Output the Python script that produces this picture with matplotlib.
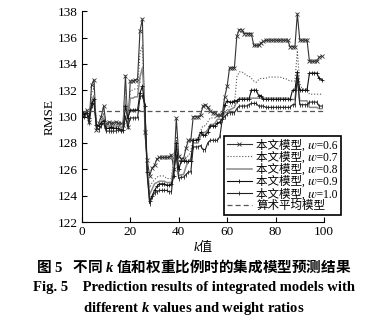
import numpy as np
import matplotlib
matplotlib.use("Agg")
import matplotlib.pyplot as plt

plt.rcParams['font.family'] = ['Liberation Serif', 'Noto Sans CJK SC', 'STIXGeneral', 'DejaVu Serif']
# custom math fonts: sf carries the Chinese glyphs, it/bfit the italic latin letters
plt.rcParams['mathtext.fontset'] = 'custom'
plt.rcParams['mathtext.rm'] = 'Liberation Serif'
plt.rcParams['mathtext.it'] = 'Liberation Serif:italic'
plt.rcParams['mathtext.bfit'] = 'Liberation Serif:italic:bold'
plt.rcParams['mathtext.sf'] = 'Noto Sans CJK SC'
plt.rcParams['mathtext.bf'] = 'Noto Sans CJK SC:bold'

# k values 0..99
k = np.arange(100)

w06 = [130.3, 130.1, 130.5, 129.6, 132.4, 132.8, 129.0, 129.5, 130.0, 130.8, 129.4,
       129.6, 129.5, 129.5, 129.6, 129.5, 129.5, 129.4,
       133.1, 129.2,
       132.7, 132.7, 132.8, 132.8,
       136.5, 137.4, 128.8, 126.7, 125.5, 126.1, 126.3,
       126.8, 126.9, 126.9, 126.9, 126.9, 126.9, 127.1,
       126.0, 129.9, 127.0, 126.8, 126.8, 127.6, 128.2, 128.2, 130.0, 130.0, 130.0, 130.1,
       130.8, 130.9, 130.7, 130.4, 130.3, 130.3, 130.1, 130.1, 130.2, 131.5, 132.3, 133.7,
       133.7, 133.7, 136.1, 136.6, 136.6, 136.3, 136.3, 136.3, 136.3, 135.4, 135.4, 135.4,
       135.6, 135.7, 135.8,
       135.8, 135.8, 135.8, 135.8, 135.8, 135.8, 135.8, 135.8, 135.8,
       135.3, 135.3, 135.3, 137.8, 135.8, 135.8, 135.8, 135.8, 134.2, 134.2, 134.2, 134.2,
       134.5, 134.6]

w07 = [130.2, 130.2, 130.4, 129.7, 131.8, 132.2, 129.2, 129.5, 129.8, 130.3, 129.3,
       129.4, 129.4, 129.3, 129.4, 129.4, 129.3, 129.3,
       132.4, 129.5,
       132.0, 132.0, 132.1, 132.1,
       134.8, 135.4, 130.4, 126.2, 124.6, 125.0, 125.2,
       125.4, 125.5, 125.5, 125.5, 125.3, 125.3, 125.3,
       127.0, 128.5, 126.7, 126.6, 126.6, 127.0, 127.0, 127.4, 128.3, 128.3, 128.4, 128.9,
       129.3, 129.3, 129.6, 129.9, 129.9, 129.9, 130.0, 130.0, 130.1, 130.6, 130.4, 130.8,
       130.8, 130.8, 133.0, 133.4, 133.4, 133.3, 133.1, 133.1, 132.9, 132.7, 132.6, 132.8,
       132.9, 132.9, 132.9,
       133.0, 133.0, 133.0, 133.0, 133.0, 133.0, 132.9, 132.9, 132.8,
       132.7, 132.7, 132.7, 135.0, 132.5, 132.1, 132.1, 132.1, 131.7, 131.7, 131.7, 131.7,
       131.7, 131.7]

w08 = [130.3, 130.0, 130.4, 129.8, 131.2, 131.6, 129.3, 129.4, 129.6, 129.9, 129.2,
       129.3, 129.3, 129.2, 129.2, 129.3, 129.2, 129.2,
       131.5, 129.7,
       131.4, 131.4, 131.5, 131.5,
       133.0, 133.7, 130.6, 126.0, 124.1, 124.5, 124.9,
       125.0, 125.1, 125.1, 125.1, 125.0, 125.0, 125.0,
       126.5, 127.5, 125.5, 125.6, 125.6, 126.2, 126.6, 126.8, 128.0, 128.0, 128.0, 128.5,
       128.8, 128.8, 129.0, 129.4, 129.4, 129.5, 129.8, 129.8, 129.8, 130.3, 130.3, 130.5,
       130.6, 130.7, 131.2, 131.4, 131.4, 131.4, 131.4, 131.4, 131.4, 131.4, 131.4, 131.4,
       131.4, 131.4, 131.4,
       131.4, 131.4, 131.4, 131.4, 131.4, 131.4, 131.4, 131.4, 131.4,
       131.3, 131.3, 131.3, 133.0, 131.2, 131.2, 131.2, 131.2, 130.7, 130.7, 130.7, 130.7,
       130.6, 130.6]

w09 = [130.4, 130.2, 130.3, 129.9, 131.0, 131.3, 129.4, 129.3, 129.5, 129.7, 129.1,
       129.1, 129.2, 129.1, 129.1, 129.1, 129.0, 129.0,
       130.8, 129.9,
       130.5, 130.5, 130.5, 130.5,
       131.8, 132.3, 130.8, 125.8, 123.6, 124.0, 124.4,
       124.7, 124.9, 124.9, 124.9, 124.8, 124.8, 124.9,
       125.5, 128.0, 126.0, 126.6, 126.6, 126.6, 126.6, 126.6, 128.2, 128.2, 128.3, 128.8,
       128.6, 128.6, 128.8, 129.3, 129.3, 129.3, 129.5, 129.6, 129.8, 130.9, 131.2, 131.1,
       131.1, 131.2, 131.2, 131.3, 131.3, 131.3, 131.3, 131.3, 132.0, 132.0, 132.0, 131.6,
       131.6, 131.3, 131.3,
       131.3, 131.3, 131.3, 131.3, 131.3, 131.3, 131.3, 131.3, 131.3,
       131.3, 132.0, 132.0, 133.4, 132.0, 132.0, 132.0, 132.0, 133.3, 133.3, 133.3, 133.3,
       132.9, 132.8]

w10 = [130.1, 130.0, 130.3, 129.5, 130.8, 131.0, 129.2, 129.0, 129.3, 129.5, 128.9,
       128.9, 128.9, 128.9, 128.9, 129.0, 128.9, 128.9,
       130.0, 129.2,
       129.9, 129.9, 129.9, 129.9,
       131.5, 131.6, 130.9, 125.5, 123.4, 123.9, 124.2,
       124.3, 124.4, 124.4, 124.4, 124.4, 124.3, 124.3,
       126.0, 127.0, 125.3, 125.4, 125.4, 125.6, 125.8, 125.8, 127.7, 127.7, 127.7, 127.8,
       127.5, 127.5, 128.0, 128.2, 128.2, 128.2, 128.2, 128.5, 129.8, 130.0, 130.2, 130.3,
       130.3, 130.3, 130.6, 130.8, 130.8, 130.8, 130.8, 130.9, 131.0, 131.0, 131.0, 130.8,
       130.8, 130.8, 130.7,
       130.7, 130.7, 130.7, 130.7, 130.7, 130.7, 130.7, 130.7, 130.7,
       130.7, 130.9, 130.9, 133.0, 130.9, 130.9, 130.9, 130.9, 131.1, 131.1, 131.1, 131.1,
       130.8, 130.8]

mean_rmse = 130.45

# U+1D464 is the mathematical italic w
labels = ['本文模型, \U0001D464=0.6', '本文模型, \U0001D464=0.7', '本文模型, \U0001D464=0.8',
          '本文模型, \U0001D464=0.9', '本文模型, \U0001D464=1.0', '算术平均模型']

fig = plt.figure(figsize=(3.88, 3.28), dpi=100)
ax = fig.add_axes([0.211, 0.323, 0.624, 0.643])

ax.plot(k, w06, color='#333333', lw=0.8, marker='x', ms=2.5, mew=0.6, label=labels[0])
ax.plot(k, w07, color='#555555', lw=0.8, ls=':', label=labels[1])
ax.plot(k, w08, color='#8a8a8a', lw=1.1, label=labels[2])
ax.plot(k, w09, color='#111111', lw=0.8, marker='+', ms=2.5, mew=0.6, label=labels[3])
ax.plot(k, w10, color='#222222', lw=0.8, marker='|', ms=2.5, mew=0.6, label=labels[4])
ax.axhline(mean_rmse, color='#555555', lw=0.9, ls=(0, (4, 2.5)), label=labels[5])

ax.set_xlim(0, 100)
ax.set_ylim(122, 138)
ax.set_xticks(range(0, 101, 20))
ax.set_yticks(range(122, 139, 2))
ax.tick_params(direction='in', length=3.5, width=0.8, labelsize=9.5, pad=3)
for s in ['top', 'right']:
    ax.spines[s].set_visible(False)
for s in ['left', 'bottom']:
    ax.spines[s].set_linewidth(0.8)

ax.set_ylabel('RMSE', fontsize=9.5, labelpad=1.5)
ax.set_xlabel(r'$k$$\mathsf{值}$', fontsize=9.5, labelpad=-1)

leg = ax.legend(loc='upper left', bbox_to_anchor=(0.577, 0.585),
                bbox_transform=fig.transFigure, fontsize=8.3, frameon=True,
                fancybox=False, handlelength=2.2, handletextpad=0.35,
                labelspacing=0.0, borderpad=0.25, borderaxespad=0)
leg.get_frame().set_edgecolor('black')
leg.get_frame().set_linewidth(1.2)
leg.get_frame().set_alpha(1)

fig.text(0.5, 0.187,
         r'$\mathbf{图}$ 5   $\mathbf{不同}$ $\mathbfit{k}$ $\mathbf{值和权重比例时的集成模型预测结果}$',
         ha='center', va='center', fontsize=10.5, fontweight='bold')
fig.text(0.5, 0.122, 'Fig. 5    Prediction results of integrated models with',
         ha='center', va='center', fontsize=10.5, fontweight='bold')
fig.text(0.5, 0.06, r'different $\mathbfit{k}$ values and weight ratios',
         ha='center', va='center', fontsize=10.5, fontweight='bold')

fig.savefig('out.png', dpi=100)
